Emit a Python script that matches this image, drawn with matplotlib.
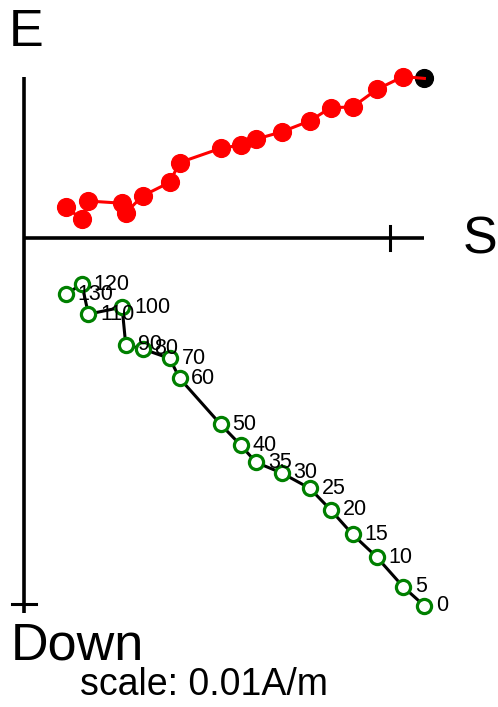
import matplotlib
matplotlib.use("Agg")
import matplotlib.pyplot as plt

plt.rcParams['font.family'] = ['Liberation Sans', 'DejaVu Sans']

# demagnetisation steps (labels)
steps = [0, 5, 10, 15, 20, 25, 30, 35, 40, 50, 60, 70, 80, 90, 100, 110, 120, 130]
# components in mA/m (scale 0.01 A/m = 10 mA/m)
south = [10.94, 10.36, 9.64, 8.98, 8.38, 7.81, 7.04, 6.34, 5.92, 5.37,
         4.25, 3.98, 3.24, 2.78, 2.68, 1.76, 1.58, 1.14]
east = [4.36, 4.41, 4.06, 3.58, 3.56, 3.20, 2.90, 2.70, 2.54, 2.45,
        2.06, 1.52, 1.15, 0.69, 0.95, 1.01, 0.52, 0.84]
down = [10.05, 9.53, 8.72, 8.10, 7.43, 6.84, 6.42, 6.13, 5.66, 5.09,
        3.83, 3.29, 3.03, 2.92, 1.89, 2.08, 1.26, 1.54]
scale_tick = 10.0  # 0.01 A/m

W, H = 498, 707
PX = 36.6  # pixels per mA/m
ox, oy = 24, 238

fig = plt.figure(figsize=(W / 100, H / 100), dpi=100)
ax = fig.add_axes([0, 0, 1, 1])
ax.set_xlim(-ox / PX, (W - ox) / PX)
ax.set_ylim((oy - H) / PX, oy / PX)
ax.axis('off')

# axes lines
xmax = max(south)
emax = max(east)
dmax = max(down) * 1.02
ax.plot([0, xmax], [0, 0], color='black', lw=2.6, solid_capstyle='butt', zorder=1)
ax.plot([0, 0], [emax, -dmax], color='black', lw=2.6, solid_capstyle='butt', zorder=1)
tk = 12 / PX
ax.plot([scale_tick, scale_tick], [-tk, tk], color='black', lw=2.2, zorder=1)
ax.plot([-tk, tk], [-scale_tick, -scale_tick], color='black', lw=2.2, zorder=1)

# horizontal projection (S vs E)
ax.plot(south[:1], east[:1], 'o', color='black', ms=12.8, mew=1, zorder=2)
ax.plot(south, east, '-', color='red', lw=2.2, zorder=3)
ax.plot(south[1:], east[1:], 'o', color='red', ms=12.8, mew=1, zorder=4)

# vertical projection (S vs Down)
neg_down = [-d for d in down]
ax.plot(south, neg_down, '-', color='black', lw=2.2, zorder=3)
ax.plot(south, neg_down, 'o', mfc='white', mec='green', ms=10.2, mew=2.3,
        linestyle='none', zorder=4)
for s, d, lab in zip(south, neg_down, steps):
    ax.annotate(str(lab), (s, d), xytext=(8.5, 0), textcoords='offset points',
                ha='left', va='center', fontsize=15.5, zorder=5)

fig.text(9 / W, 1 - 45.7 / H, 'E', fontsize=37.5, ha='left', va='baseline')
fig.text(463 / W, 1 - 253 / H, 'S', fontsize=37.5, ha='left', va='baseline')
fig.text(11 / W, 1 - 660 / H, 'Down', fontsize=37.5, ha='left', va='baseline')
fig.text(80 / W, 1 - 695 / H, 'scale: 0.01A/m', fontsize=27, ha='left', va='baseline')

fig.savefig('out.png', dpi=100)
